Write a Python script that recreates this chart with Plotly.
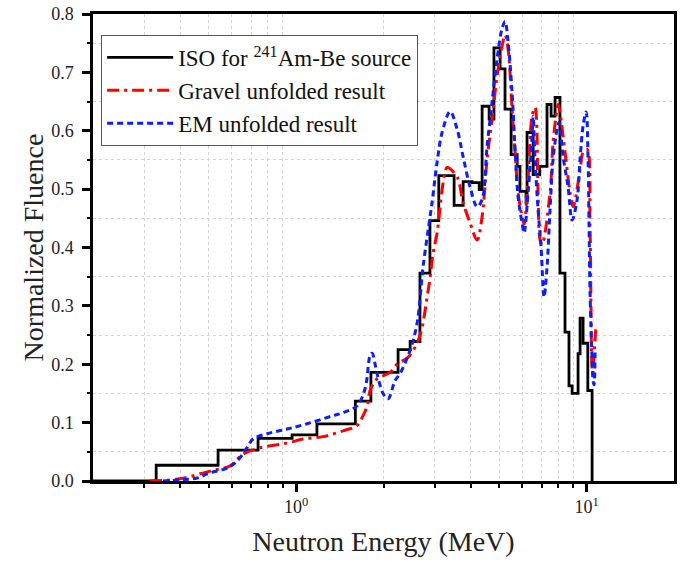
#import modules
import plotly.graph_objects as go

# ISO 241Am-Be reference spectrum (step values, value holds until next energy)
iso_energy = [0.2, 0.33, 0.539, 0.74, 0.969, 1.18, 1.6, 1.81, 2.245, 2.47, 2.67, 2.89,
              3.1, 3.5, 3.76, 4.04, 4.27, 4.37, 4.62, 4.8, 5.04, 5.24, 5.5, 5.77,
              5.9, 6.19, 6.24, 6.55, 6.9, 7.31, 7.55, 7.79, 8.1, 8.43, 8.7, 8.92,
              9.35, 9.5, 9.73, 10.1, 10.45]
iso_fluence = [0.0, 0.027, 0.053, 0.073, 0.079, 0.098, 0.137, 0.186, 0.225, 0.239, 0.356, 0.446,
               0.523, 0.472, 0.513, 0.511, 0.499, 0.642, 0.62, 0.742, 0.706, 0.637, 0.559, 0.539,
               0.496, 0.477, 0.597, 0.525, 0.539, 0.645, 0.625, 0.657, 0.356, 0.255, 0.163, 0.15,
               0.218, 0.279, 0.236, 0.155, 0.0]

# Gravel unfolded result
gravel_energy = [0.314, 0.399, 0.506, 0.593, 0.657, 0.752, 0.931, 1.057, 1.238, 1.451, 1.622,
                 1.701, 1.756, 1.798, 1.90, 2.107, 2.227, 2.43, 2.609, 2.715, 2.825, 2.893,
                 2.962, 3.058, 3.182, 3.259, 3.311, 3.584, 3.757, 3.972, 4.199, 4.369, 4.546,
                 4.729, 4.92, 5.119, 5.242, 5.369, 5.541, 5.675, 5.812, 5.998, 6.094, 6.29,
                 6.493, 6.649, 6.808, 6.917, 7.028, 7.488, 7.668, 7.916, 7.978, 8.106, 8.434,
                 8.776, 8.987, 9.498, 9.727, 10.04, 10.28, 10.36, 10.45, 10.53, 10.61, 10.78]
gravel_fluence = [0.0, 0.004, 0.017, 0.026, 0.046, 0.057, 0.065, 0.072, 0.076, 0.086, 0.095,
                  0.112, 0.129, 0.155, 0.175, 0.186, 0.2, 0.212, 0.236, 0.263, 0.315, 0.348,
                  0.39, 0.425, 0.499, 0.53, 0.537, 0.521, 0.477, 0.442, 0.413, 0.453, 0.551,
                  0.62, 0.694, 0.745, 0.764, 0.74, 0.637, 0.563, 0.494, 0.453, 0.44, 0.52,
                  0.625, 0.64, 0.494, 0.413, 0.405, 0.494, 0.58, 0.637, 0.645, 0.63, 0.563,
                  0.494, 0.47, 0.533, 0.563, 0.568, 0.435, 0.293, 0.194, 0.184, 0.215, 0.267]

# EM unfolded result
em_energy = [0.348, 0.399, 0.456, 0.506, 0.579, 0.626, 0.678, 0.711, 0.795, 0.931, 1.091,
             1.341, 1.451, 1.622, 1.728, 1.798, 1.827, 1.90, 1.993, 2.074, 2.192, 2.28,
             2.469, 2.609, 2.737, 2.893, 2.939, 3.058, 3.182, 3.391, 3.584, 3.757, 3.972,
             4.199, 4.369, 4.546, 4.729, 4.92, 5.119, 5.242, 5.369, 5.541, 5.675, 5.812,
             5.998, 6.094, 6.29, 6.493, 6.545, 6.649, 6.808, 6.973, 7.084, 7.14, 7.311,
             7.488, 7.668, 7.916, 8.042, 8.301, 8.637, 8.917, 9.276, 9.498, 9.727, 9.961,
             10.12, 10.2, 10.28, 10.45, 10.53, 10.61, 10.7]
em_fluence = [0.0, 0.002, 0.005, 0.014, 0.022, 0.034, 0.057, 0.072, 0.081, 0.089, 0.098,
              0.112, 0.117, 0.129, 0.158, 0.215, 0.219, 0.184, 0.15, 0.141, 0.172, 0.184,
              0.224, 0.27, 0.367, 0.453, 0.477, 0.546, 0.597, 0.633, 0.603, 0.556, 0.504,
              0.47, 0.482, 0.573, 0.649, 0.723, 0.775, 0.787, 0.752, 0.666, 0.568, 0.487,
              0.442, 0.425, 0.494, 0.59, 0.625, 0.551, 0.465, 0.401, 0.332, 0.315, 0.367,
              0.465, 0.551, 0.602, 0.614, 0.556, 0.504, 0.447, 0.482, 0.551, 0.608, 0.632,
              0.551, 0.435, 0.325, 0.207, 0.172, 0.165, 0.224]

# tick labels
x_tick_vals = [1, 10]
x_tick_text = ["10<sup>0</sup>", "10<sup>1</sup>"]
x_minor_vals = [0.3, 0.4, 0.5, 0.6, 0.7, 0.8, 0.9, 2, 3, 4, 5, 6, 7, 8, 9]

serif = "Liberation Serif"

fig = go.Figure()

fig.add_trace(go.Scatter(x=iso_energy, y=iso_fluence, mode="lines", line_shape="hv",
                         name="ISO for <sup>241</sup>Am-Be source",
                         line=dict(color="black", width=2.8)))
fig.add_trace(go.Scatter(x=gravel_energy, y=gravel_fluence, mode="lines", line_shape="spline",
                         name="Gravel unfolded result",
                         line=dict(color="#ff0000", width=3, dash="12px,5px,3px,5px")))
fig.add_trace(go.Scatter(x=em_energy, y=em_fluence, mode="lines", line_shape="spline",
                         name="EM unfolded result",
                         line=dict(color="#0a1eff", width=3, dash="6px,4px")))

grid_style = dict(showgrid=True, gridcolor="#d4d4d4", griddash="dot", gridwidth=1)

fig.update_xaxes(type="log", range=[-0.69897, 1.30103], automargin=False,
                 tickmode="array", tickvals=x_tick_vals, ticktext=x_tick_text,
                 ticks="outside", ticklen=8, tickwidth=2.5, tickcolor="black",
                 ticklabelstandoff=0,
                 showline=True, linecolor="black", linewidth=2.5, mirror=True,
                 showgrid=False, zeroline=False,
                 tickfont=dict(family=serif, size=18, color="#222"),
                 minor=dict(tickmode="array", tickvals=x_minor_vals, ticks="outside",
                            ticklen=4, tickwidth=2, tickcolor="black", **grid_style),
                 title=dict(text="Neutron Energy (MeV)", standoff=16,
                            font=dict(family=serif, size=28, color="#222")))

fig.update_yaxes(range=[0, 0.8], dtick=0.1, tickformat=".1f", automargin=False,
                 ticks="outside", ticklen=8, tickwidth=2.5, tickcolor="black",
                 ticklabelstandoff=5,
                 showline=True, linecolor="black", linewidth=2.5, mirror=True,
                 showgrid=False, zeroline=False,
                 tickfont=dict(family=serif, size=18, color="#222"),
                 minor=dict(dtick=0.05, ticks="outside", ticklen=3, tickwidth=2,
                            tickcolor="black", **grid_style),
                 title=dict(text="Normalized Fluence", standoff=0,
                            font=dict(family=serif, size=28, color="#222")))

fig.update_layout(width=682, height=562,
                  margin=dict(l=93, r=8, t=14, b=81),
                  plot_bgcolor="white", paper_bgcolor="white",
                  legend=dict(x=0.014, y=0.955, xanchor="left", yanchor="top",
                              bgcolor="white", bordercolor="#555", borderwidth=1,
                              font=dict(family=serif, size=23, color="#111"),
                              tracegroupgap=0, itemwidth=66))

# drop the default 8px page margin so the figure fills the window, no toolbar
fig.write_html("out.html", config={"displayModeBar": False},
               post_script="document.body.style.margin = '0';")

print("Finished")
